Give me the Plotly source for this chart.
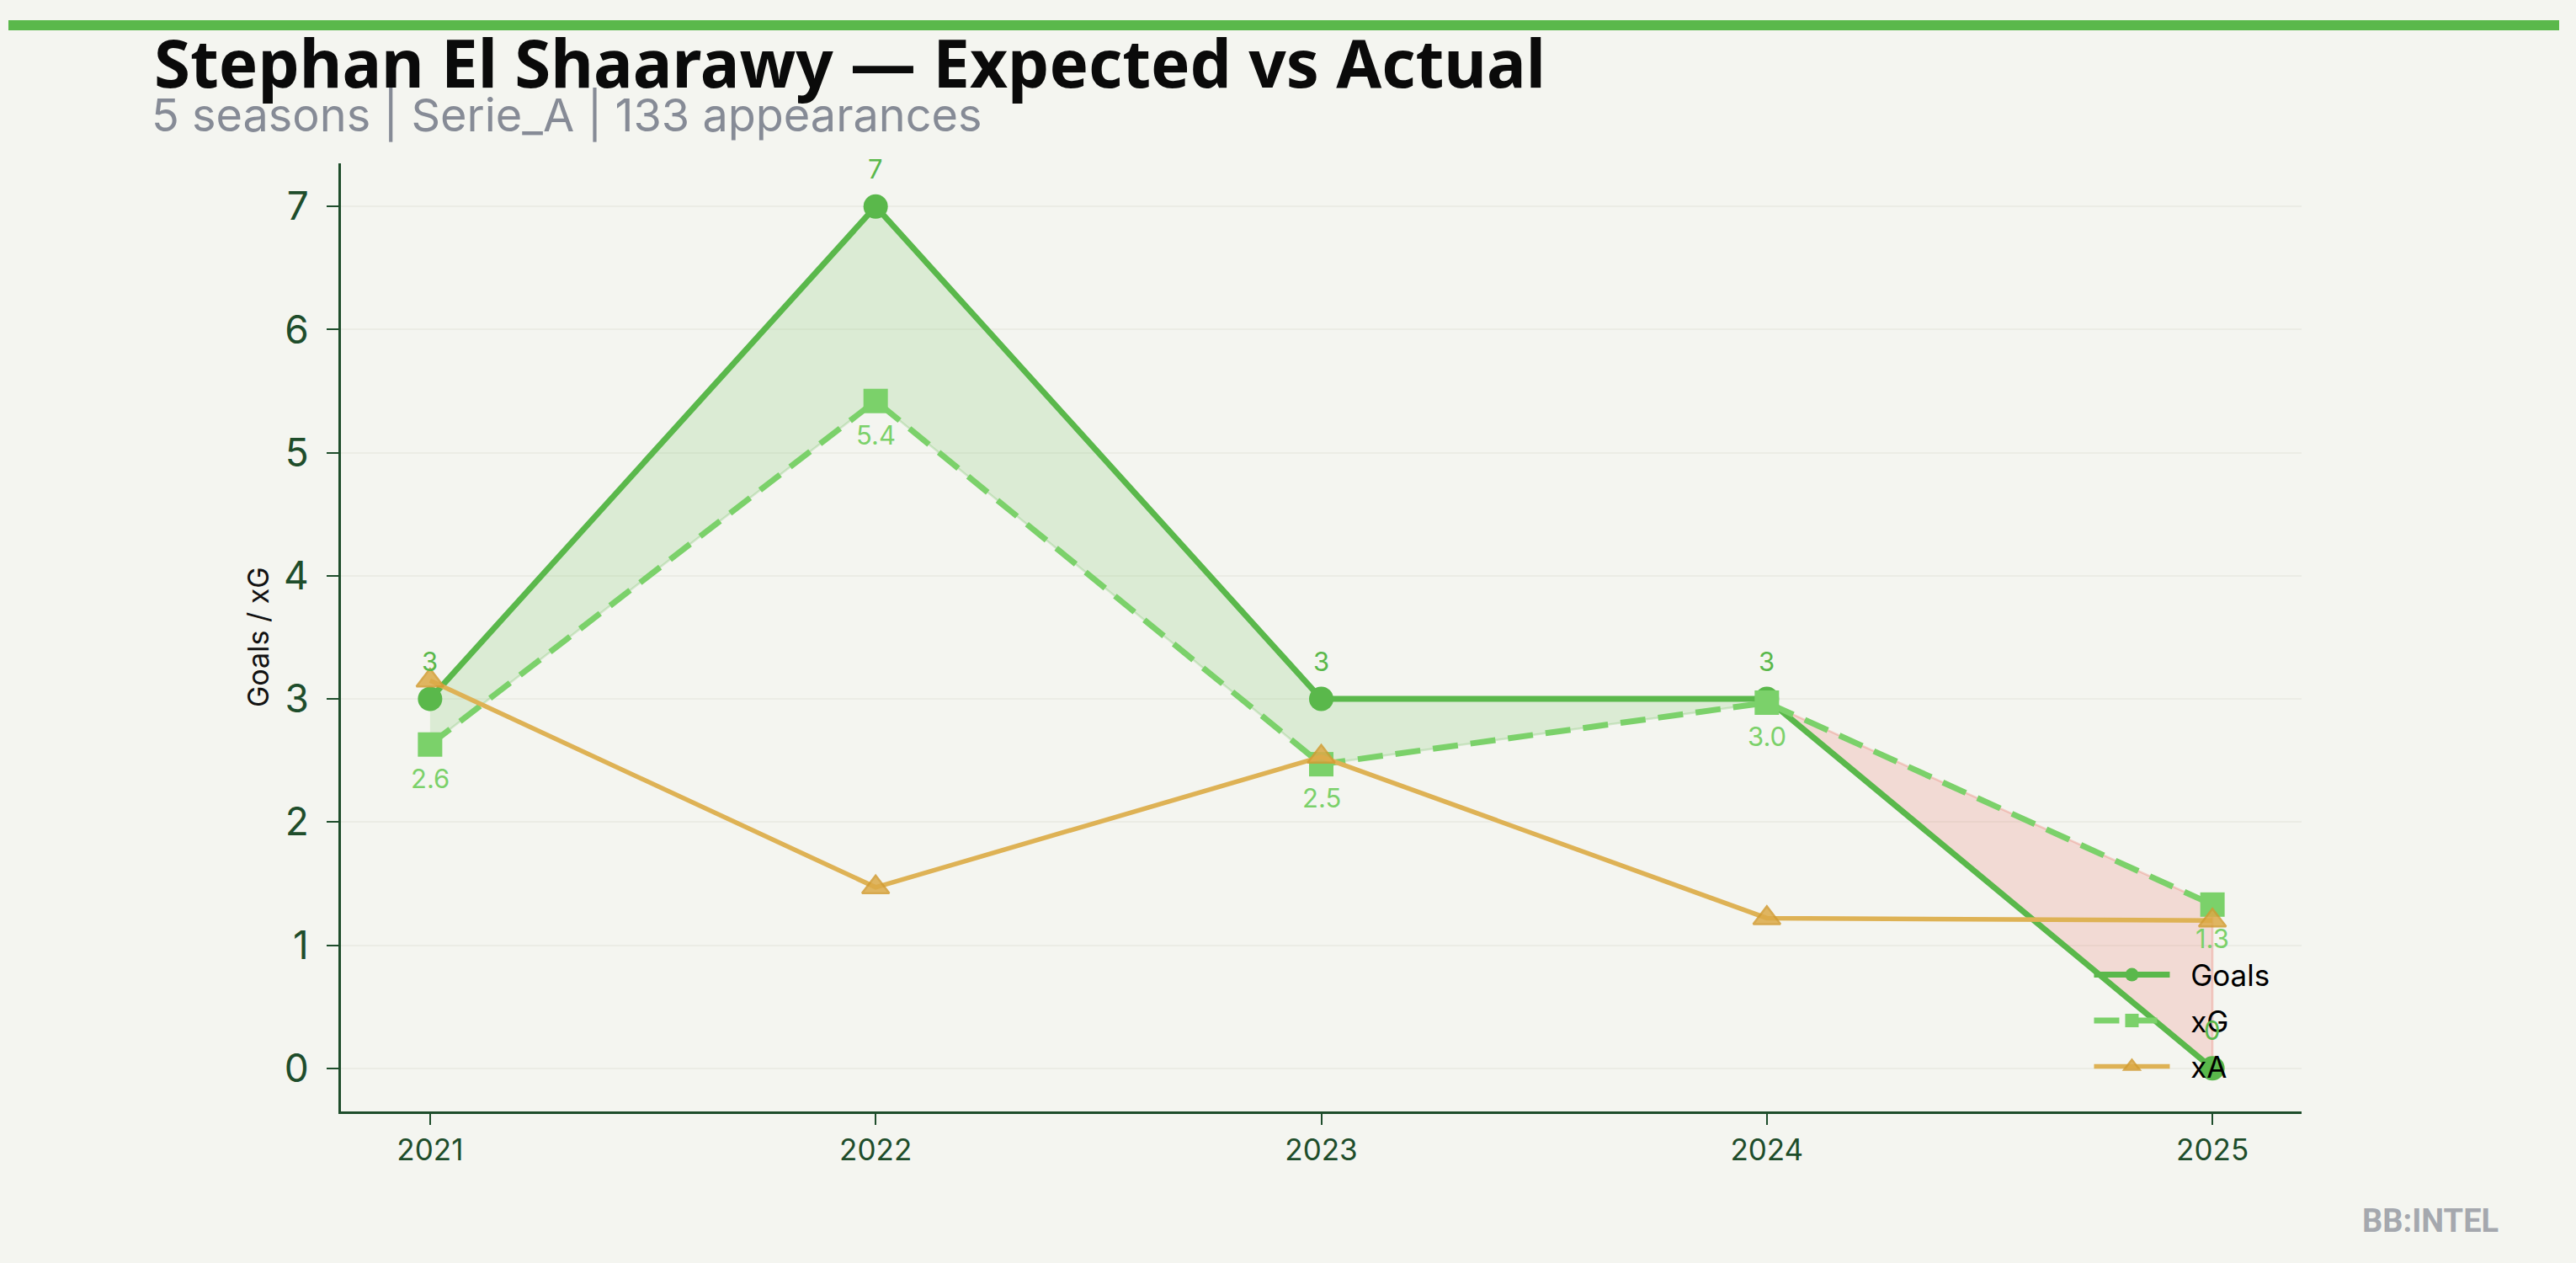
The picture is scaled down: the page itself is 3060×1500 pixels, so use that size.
import plotly.graph_objects as go

# ---------------- data ----------------
seasons = [2021, 2022, 2023, 2024, 2025]
goals = [3, 7, 3, 3, 0]
xg = [2.63, 5.42, 2.47, 2.97, 1.33]
xa = [3.15, 1.47, 2.53, 1.22, 1.20]
goal_labels = ["3", "7", "3", "3", "0"]
xg_labels = ["2.6", "5.4", "2.5", "3.0", "1.3"]
year_ticks = ["2021", "2022", "2023", "2024", "2025"]
y_ticks = [0, 1, 2, 3, 4, 5, 6, 7]
series_names = ["Goals", "xG", "xA"]

title_text = "Stephan El Shaarawy — Expected vs Actual"
subtitle_text = "5 seasons | Serie_A | 133 appearances"
y_title = "Goals / xG"
brand = "BB:INTEL"

# ---------------- style ----------------
BG = "#f4f5f0"
AX = "#1e4d2b"
GREEN = "#5ab84b"
LGREEN = "#7bd16a"
GOLD = "#deb255"
GOLD_M = "#dcaa48"
FILL_POS = "rgba(91,184,71,0.16)"
FILL_NEG = "rgba(231,90,75,0.17)"
EDGE_POS = "rgba(91,184,71,0.22)"
EDGE_NEG = "rgba(231,90,75,0.25)"
PAD = "\u00a0\u00a0"

W, H = 3060, 1500
L, R, T, B = 405, 326, 194, 180
PW, PH = W - L - R, H - T - B


def px_x(p):
    return (p - L) / PW


def px_y(p):
    return (H - B - p) / PH


# ------------- fill regions between goals and xG (with crossings) -------------
pts = []
for i in range(len(seasons)):
    pts.append((seasons[i], goals[i], xg[i]))
    if i < len(seasons) - 1:
        d0 = goals[i] - xg[i]
        d1 = goals[i + 1] - xg[i + 1]
        if d0 * d1 < 0:
            t = d0 / (d0 - d1)
            xc = seasons[i] + t * (seasons[i + 1] - seasons[i])
            yc = goals[i] + t * (goals[i + 1] - goals[i])
            pts.append((xc, yc, yc))


def sgn(p):
    d = p[1] - p[2]
    return 1 if d > 1e-12 else (-1 if d < -1e-12 else 0)


regions = []
cur = [pts[0]]
cur_sign = sgn(pts[0]) or None
for p in pts[1:]:
    s = sgn(p)
    cur.append(p)
    if s == 0:
        regions.append((cur_sign, cur))
        cur = [p]
        cur_sign = None
    elif cur_sign is None:
        cur_sign = s
if len(cur) > 1:
    regions.append((cur_sign, cur))

fig = go.Figure()

for s, seg in regions:
    if s is None:
        continue
    xs = [p[0] for p in seg] + [p[0] for p in reversed(seg)]
    ys = [p[1] for p in seg] + [p[2] for p in reversed(seg)]
    fig.add_trace(go.Scatter(
        x=xs, y=ys, mode="lines", fill="toself",
        fillcolor=FILL_POS if s > 0 else FILL_NEG,
        line=dict(color=EDGE_POS if s > 0 else EDGE_NEG, width=2.5),
        hoverinfo="skip", showlegend=False,
    ))

fig.add_trace(go.Scatter(
    x=seasons, y=goals, name=PAD + series_names[0], mode="lines+markers", legendgroup="g",
    line=dict(color=GREEN, width=7),
    marker=dict(symbol="circle", size=29, color=GREEN),
))
fig.add_trace(go.Scatter(
    x=seasons, y=xg, name=PAD + series_names[1], mode="lines+markers", legendgroup="x",
    line=dict(color=LGREEN, width=7, dash="30px,15px"),
    marker=dict(symbol="square", size=29, color=LGREEN),
))
fig.add_trace(go.Scatter(
    x=seasons, y=xa, name=PAD + series_names[2], mode="lines+markers", legendgroup="a",
    line=dict(color=GOLD, width=5.5),
    marker=dict(symbol="triangle-up", size=28, color=GOLD_M, opacity=0.85,
                line=dict(color="#d29c33", width=2.5)),
))

annotations = []
for x, y, t in zip(seasons, goals, goal_labels):
    annotations.append(dict(x=x, y=y, text=t, showarrow=False, yshift=45,
                            font=dict(family="Inter", size=31, color=GREEN)))
for x, y, t in zip(seasons, xg, xg_labels):
    annotations.append(dict(x=x, y=y, text=t, showarrow=False, yshift=-40,
                            font=dict(family="Inter", size=31, color=LGREEN)))

annotations.append(dict(
    xref="paper", yref="paper", x=px_x(181), y=px_y(74), xanchor="left", yanchor="middle",
    text=f"<b>{title_text}</b>", showarrow=False,
    font=dict(family="Noto Sans", size=78, color="#0a0a0a", weight=900)))
annotations.append(dict(
    xref="paper", yref="paper", x=px_x(178), y=px_y(137), xanchor="left", yanchor="middle",
    text=subtitle_text, showarrow=False,
    font=dict(family="Inter", size=54, color="#868b96")))
annotations.append(dict(
    xref="paper", yref="paper", x=px_x(306), y=0.5, xanchor="center", yanchor="middle",
    text=y_title, textangle=-90, showarrow=False,
    font=dict(family="Inter", size=34, color="#111111")))
annotations.append(dict(
    xref="paper", yref="paper", x=px_x(2887), y=px_y(1450), xanchor="center", yanchor="middle",
    text=f"<b>{brand}</b>", showarrow=False,
    font=dict(family="Roboto", size=38, color="#a5a8ae")))

fig.update_layout(
    width=W, height=H,
    margin=dict(l=L, r=R, t=T, b=B, autoexpand=False),
    paper_bgcolor=BG, plot_bgcolor=BG,
    showlegend=True,
    legend=dict(x=0.892, y=0.021, xanchor="left", yanchor="bottom",
                bgcolor="rgba(0,0,0,0)", font=dict(family="Inter", size=35, color="#000000"),
                itemwidth=90, tracegroupgap=6, traceorder="grouped"),
    annotations=annotations,
    shapes=[dict(type="rect", xref="paper", yref="paper",
                 x0=px_x(10), x1=px_x(3040), y0=px_y(36), y1=px_y(24),
                 fillcolor=GREEN, line=dict(width=0))],
)

fig.update_xaxes(
    range=[2020.8, 2025.2], tickmode="array", tickvals=seasons, ticktext=year_ticks,
    showgrid=False, zeroline=False, showline=True, linecolor=AX, linewidth=3,
    ticks="outside", ticklen=13, tickwidth=2, tickcolor=AX,
    tickfont=dict(family="Inter", size=35, color=AX),
)
fig.update_yaxes(
    range=[-0.35, 7.35], tickmode="array", tickvals=y_ticks,
    showgrid=True, gridcolor="#ebece5", gridwidth=1.5, zeroline=False,
    showline=True, linecolor=AX, linewidth=3,
    ticks="outside", ticklen=14, tickwidth=2, tickcolor=AX, ticklabelstandoff=12,
    tickfont=dict(family="Inter", size=46, color=AX),
)

fig.write_html(
    "out.html",
    config={"displayModeBar": False},
    post_script="document.body.style.margin='0px';document.body.style.overflow='hidden';",
)
